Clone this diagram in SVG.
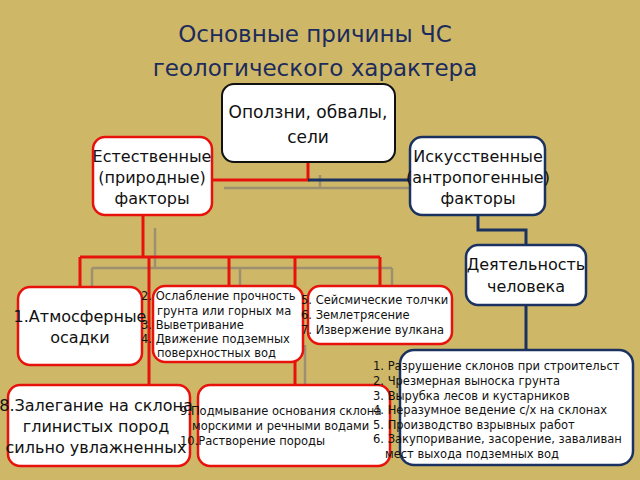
<svg xmlns="http://www.w3.org/2000/svg" width="640" height="480" viewBox="0 0 640 480">
<style>
.r{fill:#fff;stroke:#e8120c;stroke-width:2.5}
.b{fill:#fff;stroke:#1b3260;stroke-width:2.5}
.k{fill:#fff;stroke:#111;stroke-width:2}
text{font-family:"DejaVu Sans",sans-serif;fill:#111}
.big{font-size:16px;text-anchor:middle}
.sm{font-size:11.5px}
.rl{stroke:#e8120c;stroke-width:3;fill:none}
.bl{stroke:#1b3260;stroke-width:3;fill:none}
.gl{stroke:#9c9070;stroke-width:2.5;fill:none}
</style>
<rect width="640" height="480" fill="#ceb868"/>
<text x="315" y="42" style="font-size:23px;fill:#1d2b5c;text-anchor:middle">Основные причины ЧС</text>
<text x="315" y="76" style="font-size:23px;fill:#1d2b5c;text-anchor:middle">геологического характера</text>
<g id="connectors">
<path class="gl" d="M320 175V188M224 188H410M155 228V268M92 268H392M92 268V290M240 268V290M392 268V290M305 345V395M490 245V268H540"/>
<path class="rl" d="M308 160V180H212M143 215V257M80 257H380M80 257V288M149 257V386M229 257V288M295 257V386M380 257V288"/>
<path class="bl" d="M308 180H410M478 215V230H526V246M526 305V351"/>
</g>
<g id="n0"><rect class="k" x="222" y="84" width="173" height="78" rx="12"/><text class="big" x="308" y="118" style="font-size:17px">Оползни, обвалы,</text><text class="big" x="308" y="143" style="font-size:17px">сели</text></g>
<g id="n1"><rect class="r" x="93" y="137" width="119" height="78" rx="12"/><text class="big" x="152" y="162">Естественные</text><text class="big" x="152" y="183">(природные)</text><text class="big" x="152" y="204">факторы</text></g>
<g id="n2"><rect class="b" x="410" y="137" width="135" height="78" rx="12"/><text class="big" x="478" y="162">Искусственные</text><text class="big" x="478" y="183">(антропогенные)</text><text class="big" x="478" y="204">факторы</text></g>
<g id="n3"><rect class="b" x="466" y="245" width="120" height="60" rx="12"/><text class="big" x="526" y="270">Деятельность</text><text class="big" x="526" y="292">человека</text></g>
<g id="n4"><rect class="r" x="18" y="287" width="124" height="78" rx="12"/><text class="big" x="80" y="322">1.Атмосферные</text><text class="big" x="80" y="343">осадки</text></g>
<g id="n5"><rect class="r" x="153" y="286" width="150" height="76" rx="12"/><text class="sm" x="141" y="300">2. Ослабление прочность</text><text class="sm" x="157" y="315">грунта или горных ма</text><text class="sm" x="141" y="329">3. Выветривание</text><text class="sm" x="141" y="343">4. Движение подземных</text><text class="sm" x="157" y="357">поверхностных вод</text></g>
<g id="n6"><rect class="r" x="308" y="286" width="144" height="58" rx="12"/><text class="sm" x="301" y="304">5. Сейсмические толчки</text><text class="sm" x="301" y="319">6. Землетрясение</text><text class="sm" x="301" y="334">7. Извержение вулкана</text></g>
<g id="n8"><rect class="r" x="8" y="385" width="182" height="81" rx="12"/><text class="big" x="96" y="411">8.Залегание на склона</text><text class="big" x="96" y="432">глинистых пород</text><text class="big" x="96" y="453">сильно увлажненных</text></g>
<g id="n9"><rect class="r" x="198" y="385" width="192" height="81" rx="12"/><text class="sm" x="180" y="415">9.Подмывание основания склона</text><text class="sm" x="192" y="430">морскими и речными водами</text><text class="sm" x="180" y="445">10.Растворение породы</text></g>
<g id="n7"><rect class="b" x="400" y="350" width="233" height="115" rx="14"/><text class="sm" x="373" y="370">1. Разрушение склонов при строительст</text><text class="sm" x="373" y="385">2. Чрезмерная выноска грунта</text><text class="sm" x="373" y="400">3. Вырубка лесов и кустарников</text><text class="sm" x="373" y="414">4. Неразумное ведение с/х на склонах</text><text class="sm" x="373" y="429">5. Производство взрывных работ</text><text class="sm" x="373" y="443">6. Закупоривание, засорение, заваливан</text><text class="sm" x="385" y="458">мест выхода подземных вод</text></g>
</svg>
